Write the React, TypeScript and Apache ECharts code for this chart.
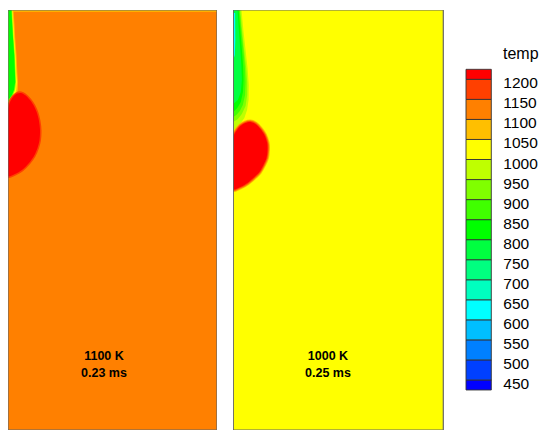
import React, { useEffect, useRef } from "react";
import * as echarts from "echarts";

// ---- contour levels & colours (legend) ----
const levels = [450, 500, 550, 600, 650, 700, 750, 800, 850, 900, 950, 1000, 1050, 1100, 1150, 1200];
const bandColors = [
  "#0000FF", "#0040FF", "#0080FF", "#00BFFF", "#00FFFF", "#00FFBF", "#00FF80", "#00FF40",
  "#00FF00", "#40FF00", "#80FF00", "#BFFF00", "#FFFF00", "#FFBF00", "#FF8000", "#FF4000", "#FF0000",
];
const legendTitle = "temp";
const legendMin = 425;
const legendMax = 1225;

// ---- domain (same units for both panels) ----
const domainWidth = 209;
const domainHeight = 420;
const domainCorners = [[0, 0], [domainWidth, 0], [domainWidth, domainHeight], [0, domainHeight]];

// ---- panel captions ----
const leftCaption = ["1100 K", "0.23 ms"];
const rightCaption = ["1000 K", "0.25 ms"];

// ---- left panel (1100 K) field regions: [x, depth-from-top] ----
const leftBaseTemp = 1125;
const leftTopLayer = [[0, 0], [209, 0], [209, 1.8], [0, 1.8]];
const leftPlume1075 = [[0, 0], [5.5, 0], [6.5, 15], [7.2, 28], [8.5, 45], [9.3, 62], [10, 72], [9.7, 80], [8.5, 86], [5.5, 92], [2, 97], [0, 100]];
const leftPlume1025 = [[0, 0], [4.5, 0], [5.5, 15], [6.2, 28], [7.5, 45], [8.3, 62], [9, 72], [8.2, 80], [6.5, 86], [3.5, 91], [0, 94]];
const leftPlume925 = [[0, 0], [4, 0], [4.8, 15], [5.5, 28], [6.8, 45], [7.5, 62], [8, 72], [7, 80], [5, 85], [2.5, 89], [0, 92]];
const leftPlume825 = [[0.4, 0], [3.4, 0], [4.2, 15], [5, 28], [6.2, 45], [6.9, 62], [7.2, 72], [6, 80], [4, 85], [1.5, 88.5], [0.4, 89]];
const leftKernel = [
  [0, 100], [2, 92], [5, 87], [9, 83.5], [13, 83], [17, 85], [22, 90], [26, 96], [29, 103], [31, 111],
  [32, 120], [31.5, 130], [29.5, 138], [26, 146], [21, 153], [14, 160], [7, 164], [0, 166],
];
const leftKernelTemp = 1250;

// ---- right panel (1000 K) field regions ----
const rightBaseTemp = 1025;
const rightPlume975 = [[0, 0], [8.2, 0], [10, 20], [12.2, 40], [14.2, 58], [15.4, 75], [15.2, 90], [13.7, 100], [11, 108], [7.5, 113], [3.5, 117], [0, 122]];
const rightPlume925 = [[0, 0], [7, 0], [8.7, 20], [10.8, 40], [12.8, 58], [13.8, 72], [13.8, 85], [12.2, 96], [8.5, 104], [4.5, 109], [0, 112]];
const rightPlume875 = [[0, 0], [6.3, 0], [8, 20], [10, 40], [11.6, 58], [12.2, 72], [11.7, 85], [9.5, 95], [6.5, 101], [3, 105], [0, 107]];
const rightPlume825 = [[0, 0], [5.3, 0], [7, 20], [8.6, 40], [9.7, 55], [10.2, 70], [9.6, 82], [7.5, 92], [4, 98], [0, 102]];
const rightPlume775 = [[0, 0], [4.2, 0], [5.5, 20], [7, 40], [8, 55], [8.5, 70], [7.5, 82], [4.5, 90], [0, 94]];
const rightPlume625 = [[0, 3], [1.8, 3], [2, 30], [1.5, 45], [0, 50]];
const rightKernel = [
  [0, 127], [3, 121], [7, 116], [12, 113], [17, 112], [22, 114], [27, 119], [31, 125], [33.7, 133], [34, 140],
  [33, 148], [30, 155], [26, 162], [21, 167], [14, 173], [7, 177], [0, 179],
];
const rightKernelTemp = 1250;

type Region = { temp?: number; pts: number[][]; rims?: [number, number][]; frame?: boolean };

function tempColor(t: number): string {
  let idx = 0;
  for (const lv of levels) if (t >= lv) idx++;
  return bandColors[idx];
}

const leftRegions: Region[] = [
  { temp: leftBaseTemp, pts: domainCorners },
  { temp: 1075, pts: leftTopLayer },
  { temp: 1075, pts: leftPlume1075 },
  { temp: 1025, pts: leftPlume1025 },
  { temp: 925, pts: leftPlume925 },
  { temp: 825, pts: leftPlume825 },
  { temp: leftKernelTemp, pts: leftKernel, rims: [[1175, 3]] },
  { frame: true, pts: domainCorners },
];

const rightRegions: Region[] = [
  { temp: rightBaseTemp, pts: domainCorners },
  { temp: 975, pts: rightPlume975 },
  { temp: 925, pts: rightPlume925 },
  { temp: 875, pts: rightPlume875 },
  { temp: 825, pts: rightPlume825 },
  { temp: 775, pts: rightPlume775 },
  { temp: 625, pts: rightPlume625 },
  { temp: rightKernelTemp, pts: rightKernel, rims: [[1075, 5], [1125, 3.4], [1175, 1.8]] },
  { frame: true, pts: domainCorners },
];

function panelSeries(regions: Region[], axisIndex: number) {
  return {
    type: "custom",
    xAxisIndex: axisIndex,
    yAxisIndex: axisIndex,
    clip: true,
    silent: true,
    data: regions.map((_, i) => [i, 0]),
    renderItem: (params: any, api: any) => {
      const r = regions[params.dataIndex];
      const pts = r.pts.map((p) => api.coord(p));
      if (r.frame) {
        return {
          type: "polygon",
          shape: { points: pts },
          style: { fill: "none", stroke: "#666", lineWidth: 1.2 },
          z2: 100,
        };
      }
      const children: any[] = [];
      (r.rims || []).forEach(([t, w]) => {
        children.push({
          type: "polygon",
          shape: { points: pts, smooth: 0.3 },
          style: { fill: tempColor(t), stroke: tempColor(t), lineWidth: w, lineJoin: "round" },
        });
      });
      children.push({
        type: "polygon",
        shape: { points: pts, smooth: r.rims ? 0.3 : 0 },
        style: { fill: tempColor(r.temp as number) },
      });
      return { type: "group", children };
    },
  };
}

const fontFamily = "Liberation Sans, Arial, sans-serif";

export default function App() {
  const ref = useRef<HTMLDivElement>(null);
  useEffect(() => {
    if (!ref.current) return;
    const chart = echarts.init(ref.current, undefined, { renderer: "svg" });
    const hiddenAxis = { show: false };
    const legendBands = bandColors.map((c, i) => [
      i === 0 ? legendMin : levels[i - 1],
      i === bandColors.length - 1 ? legendMax : levels[i],
    ]);
    chart.setOption({
      animation: false,
      backgroundColor: "#fff",
      grid: [
        { left: 8, top: 10, width: 209, height: 420 },
        { left: 233.3, top: 10, width: 210, height: 420 },
        { left: 466, top: 59.3, width: 25.3, height: 340.7 },
      ],
      xAxis: [
        { type: "value", gridIndex: 0, min: 0, max: domainWidth, ...hiddenAxis },
        { type: "value", gridIndex: 1, min: 0, max: domainWidth, ...hiddenAxis },
        { type: "value", gridIndex: 2, min: 0, max: 1, ...hiddenAxis },
      ],
      yAxis: [
        { type: "value", gridIndex: 0, min: 0, max: domainHeight, inverse: true, ...hiddenAxis },
        { type: "value", gridIndex: 1, min: 0, max: domainHeight, inverse: true, ...hiddenAxis },
        {
          type: "value",
          gridIndex: 2,
          min: 400,
          max: 1250,
          interval: 50,
          position: "right",
          axisLine: { show: false },
          axisTick: { show: false },
          splitLine: { show: false },
          axisLabel: {
            margin: 12,
            fontSize: 15.5,
            color: "#000",
            fontFamily,
            formatter: (v: number) =>
              v >= levels[0] && v <= levels[levels.length - 1] ? `{v|${v}}` : "",
            rich: {
              v: { fontSize: 15.5, fontFamily, color: "#000", padding: [7, 0, 0, 0] },
            },
          },
        },
      ],
      series: [
        panelSeries(leftRegions, 0),
        panelSeries(rightRegions, 1),
        {
          type: "custom",
          xAxisIndex: 2,
          yAxisIndex: 2,
          silent: true,
          data: legendBands.map((_, i) => [i, 0]),
          renderItem: (params: any, api: any) => {
            const [lo, hi] = legendBands[params.dataIndex];
            const p1 = api.coord([0, hi]);
            const p2 = api.coord([1, lo]);
            return {
              type: "rect",
              shape: { x: p1[0], y: p1[1], width: p2[0] - p1[0], height: p2[1] - p1[1] },
              style: { fill: bandColors[params.dataIndex], stroke: "#333", lineWidth: 0.9 },
            };
          },
        },
      ],
      graphic: [
        {
          type: "text",
          left: 503,
          top: 45,
          z: 100,
          style: { text: legendTitle, fontSize: 16, fontFamily, fill: "#000" },
        },
        ...[
          { cx: 104, lines: leftCaption },
          { cx: 328, lines: rightCaption },
        ].flatMap(({ cx, lines }) =>
          lines.map((t, k) => ({
            type: "text",
            x: cx,
            y: 356 + k * 16.5,
            z: 100,
            style: {
              text: t,
              fontSize: 12.5,
              fontWeight: "bold",
              fontFamily,
              fill: "#000",
              align: "center",
              verticalAlign: "middle",
            },
          }))
        ),
      ],
    });
    return () => chart.dispose();
  }, []);
  return (
    <div
      ref={ref}
      style={{ position: "fixed", left: 0, top: 0, width: 550, height: 439 }}
    />
  );
}
